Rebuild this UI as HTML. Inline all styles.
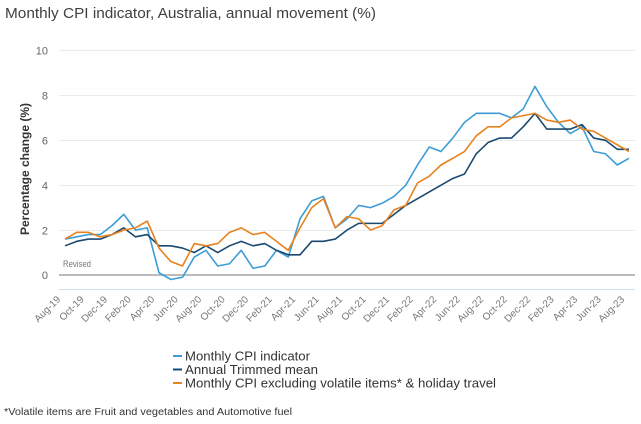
<!DOCTYPE html>
<html>
<head>
<meta charset="utf-8">
<style>
  html,body{margin:0;padding:0;background:#fff;}
  svg{display:block;font-family:"Liberation Sans",sans-serif;}
</style>
</head>
<body>
<svg width="641" height="424" viewBox="0 0 641 424" xmlns="http://www.w3.org/2000/svg">
  <rect width="641" height="424" fill="#fff"/>
  <!-- Title -->
  <text x="5" y="18" font-size="15" fill="#404040" textLength="371" lengthAdjust="spacingAndGlyphs">Monthly CPI indicator, Australia, annual movement (%)</text>

  <!-- gridlines -->
  <g stroke="#ebebeb" stroke-width="1">
    <line x1="59" y1="50.5" x2="635" y2="50.5"/>
    <line x1="59" y1="95.5" x2="635" y2="95.5"/>
    <line x1="59" y1="140.5" x2="635" y2="140.5"/>
    <line x1="59" y1="185.5" x2="635" y2="185.5"/>
    <line x1="59" y1="230.5" x2="635" y2="230.5"/>
  </g>
  <line x1="59" y1="289.5" x2="635" y2="289.5" stroke="#d3e2f0" stroke-width="1"/>
  <line x1="59" y1="275" x2="635" y2="275" stroke="#bbbbbb" stroke-width="2"/>

  <!-- y tick labels -->
  <g font-size="11" fill="#666" text-anchor="end">
    <text x="48" y="54.5">10</text>
    <text x="48" y="99.5">8</text>
    <text x="48" y="144.5">6</text>
    <text x="48" y="189.5">4</text>
    <text x="48" y="234.5">2</text>
    <text x="48" y="279">0</text>
  </g>

  <!-- y axis title -->
  <text transform="translate(29,169) rotate(-90)" text-anchor="middle" font-size="11.5" font-weight="bold" fill="#333" textLength="132" lengthAdjust="spacingAndGlyphs">Percentage change (%)</text>

  <text x="63" y="267" font-size="9.5" fill="#777" textLength="28" lengthAdjust="spacingAndGlyphs">Revised</text>

  <!-- series -->
  <g transform="translate(65,275) scale(11.75,-22.45)" fill="none" stroke-linejoin="round">
    <polyline vector-effect="non-scaling-stroke" stroke="#3d9dd6" stroke-width="1.6"
      points="0,1.6 1,1.7 2,1.8 3,1.8 4,2.2 5,2.7 6,2.0 7,2.1 8,0.1 9,-0.2 10,-0.1 11,0.8 12,1.1 13,0.4 14,0.5 15,1.1 16,0.3 17,0.4 18,1.1 19,0.8 20,2.5 21,3.3 22,3.5 23,2.1 24,2.5 25,3.1 26,3.0 27,3.2 28,3.5 29,4.0 30,4.9 31,5.7 32,5.5 33,6.1 34,6.8 35,7.2 36,7.2 37,7.2 38,7.0 39,7.4 40,8.4 41,7.5 42,6.8 43,6.3 44,6.6 45,5.5 46,5.4 47,4.9 48,5.2"/>
    <polyline vector-effect="non-scaling-stroke" stroke="#1b4a70" stroke-width="1.6"
      points="0,1.3 1,1.5 2,1.6 3,1.6 4,1.8 5,2.1 6,1.7 7,1.8 8,1.3 9,1.3 10,1.2 11,1.0 12,1.3 13,1.0 14,1.3 15,1.5 16,1.3 17,1.4 18,1.1 19,0.9 20,0.9 21,1.5 22,1.5 23,1.6 24,2.0 25,2.3 26,2.3 27,2.3 28,2.7 29,3.1 30,3.4 31,3.7 32,4.0 33,4.3 34,4.5 35,5.4 36,5.9 37,6.1 38,6.1 39,6.6 40,7.2 41,6.5 42,6.5 43,6.5 44,6.7 45,6.1 46,6.0 47,5.6 48,5.6"/>
    <polyline vector-effect="non-scaling-stroke" stroke="#e8821e" stroke-width="1.6"
      points="0,1.6 1,1.9 2,1.9 3,1.7 4,1.8 5,2.0 6,2.1 7,2.4 8,1.2 9,0.6 10,0.4 11,1.4 12,1.3 13,1.4 14,1.9 15,2.1 16,1.8 17,1.9 18,1.5 19,1.1 20,2.1 21,3.0 22,3.4 23,2.1 24,2.6 25,2.5 26,2.0 27,2.2 28,2.9 29,3.1 30,4.1 31,4.4 32,4.9 33,5.2 34,5.5 35,6.2 36,6.6 37,6.6 38,7.0 39,7.1 40,7.2 41,6.9 42,6.8 43,6.9 44,6.5 45,6.4 46,6.1 47,5.8 48,5.5"/>
  </g>

  <!-- x labels -->
  <g font-size="10" fill="#777" text-anchor="end">
    <text transform="translate(61,300) rotate(-45)">Aug-19</text>
    <text transform="translate(84.5,300) rotate(-45)">Oct-19</text>
    <text transform="translate(108,300) rotate(-45)">Dec-19</text>
    <text transform="translate(131.5,300) rotate(-45)">Feb-20</text>
    <text transform="translate(155,300) rotate(-45)">Apr-20</text>
    <text transform="translate(178.5,300) rotate(-45)">Jun-20</text>
    <text transform="translate(202,300) rotate(-45)">Aug-20</text>
    <text transform="translate(225.5,300) rotate(-45)">Oct-20</text>
    <text transform="translate(249,300) rotate(-45)">Dec-20</text>
    <text transform="translate(272.5,300) rotate(-45)">Feb-21</text>
    <text transform="translate(296,300) rotate(-45)">Apr-21</text>
    <text transform="translate(319.5,300) rotate(-45)">Jun-21</text>
    <text transform="translate(343,300) rotate(-45)">Aug-21</text>
    <text transform="translate(366.5,300) rotate(-45)">Oct-21</text>
    <text transform="translate(390,300) rotate(-45)">Dec-21</text>
    <text transform="translate(413.5,300) rotate(-45)">Feb-22</text>
    <text transform="translate(437,300) rotate(-45)">Apr-22</text>
    <text transform="translate(460.5,300) rotate(-45)">Jun-22</text>
    <text transform="translate(484,300) rotate(-45)">Aug-22</text>
    <text transform="translate(507.5,300) rotate(-45)">Oct-22</text>
    <text transform="translate(531,300) rotate(-45)">Dec-22</text>
    <text transform="translate(554.5,300) rotate(-45)">Feb-23</text>
    <text transform="translate(578,300) rotate(-45)">Apr-23</text>
    <text transform="translate(601.5,300) rotate(-45)">Jun-23</text>
    <text transform="translate(625,300) rotate(-45)">Aug-23</text>
  </g>

  <!-- legend -->
  <line x1="173" y1="356" x2="182" y2="356" stroke="#3d9dd6" stroke-width="2"/>
  <line x1="173" y1="369.5" x2="182" y2="369.5" stroke="#1b4a70" stroke-width="2"/>
  <line x1="173" y1="383" x2="182" y2="383" stroke="#e8821e" stroke-width="2"/>
  <g font-size="12.5" fill="#333">
    <text x="185" y="360.5" textLength="125" lengthAdjust="spacingAndGlyphs">Monthly CPI indicator</text>
    <text x="185" y="374" textLength="133" lengthAdjust="spacingAndGlyphs">Annual Trimmed mean</text>
    <text x="185" y="387.5" textLength="311" lengthAdjust="spacingAndGlyphs">Monthly CPI excluding volatile items* &amp; holiday travel</text>
  </g>

  <!-- footnote -->
  <text x="4" y="415" font-size="10" fill="#333" textLength="288" lengthAdjust="spacingAndGlyphs">*Volatile items are Fruit and vegetables and Automotive fuel</text>
</svg>
</body>
</html>
